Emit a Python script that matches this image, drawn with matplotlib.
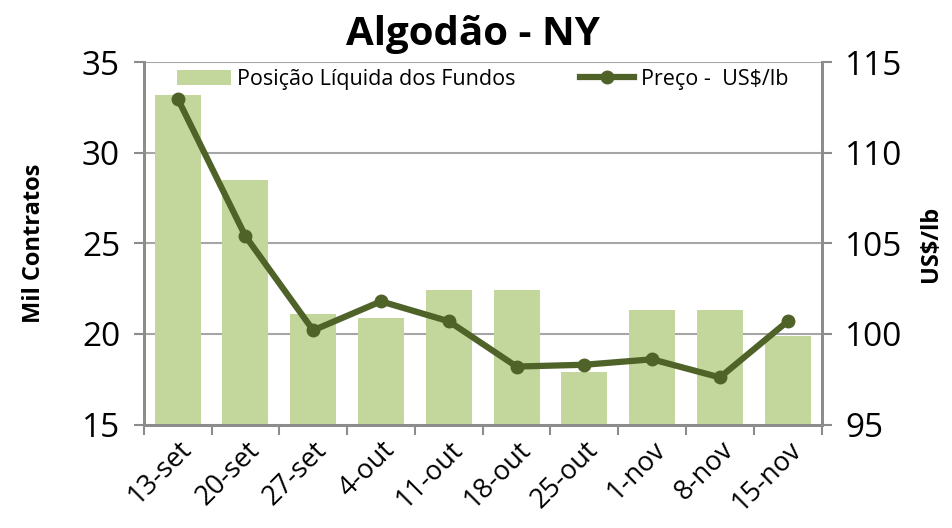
import matplotlib.pyplot as plt
import numpy as np

plt.rcParams['font.family'] = ['Open Sans', 'DejaVu Sans']

# semanas
datas = ['13-set', '20-set', '27-set', '4-out', '11-out', '18-out',
         '25-out', '1-nov', '8-nov', '15-nov']
# posicao liquida dos fundos (mil contratos)
posicao = [33.2, 28.5, 21.1, 20.9, 22.4, 22.4, 17.9, 21.3, 21.3, 19.9]
# preco US$/lb
preco = [113.0, 105.4, 100.2, 101.8, 100.7, 98.2, 98.3, 98.6, 97.6, 100.7]

barra_cor = '#c3d69b'
linha_cor = '#4f6228'
cinza = '#8c8c8c'

fig = plt.figure(figsize=(9.52, 5.28), dpi=100)
ax = fig.add_axes([0.151, 0.196, 0.712, 0.686])
ax2 = ax.twinx()

x = np.arange(len(datas))
b = ax.bar(x, posicao, width=0.68, color=barra_cor, zorder=2,
           label='Posição Líquida dos Fundos')
l, = ax2.plot(x, preco, color=linha_cor, lw=4.5, marker='o', ms=9,
              zorder=3, label='Preço -  US$/lb')

ax.set_xlim(-0.5, len(datas) - 0.5)
ax.set_ylim(15, 35)
ax.set_yticks([15, 20, 25, 30, 35])
ax2.set_ylim(95, 115)
ax2.set_yticks([95, 100, 105, 110, 115])

ax.yaxis.grid(True, color='#a6a6a6', lw=1.5, zorder=0)
ax.set_axisbelow(True)

for a in (ax, ax2):
    for s in a.spines.values():
        s.set_color(cinza)
        s.set_linewidth(2)
    a.tick_params(colors=cinza, width=1.5, length=7, labelcolor='black',
                  labelsize=24, pad=10)
ax.spines['top'].set_visible(False)
ax2.spines['top'].set_visible(False)

ax.set_xticks(np.arange(len(datas) + 1) - 0.5, minor=False)
ax.set_xticklabels([])
ax.set_xticks(x, minor=True)
ax.set_xticklabels(datas, minor=True, rotation=45, ha='right',
                   rotation_mode='anchor', fontsize=19.5)
ax.tick_params(axis='x', which='minor', length=0, pad=8)
ax.tick_params(axis='x', which='major', length=7, direction='out')

ax.set_ylabel('Mil Contratos', fontsize=17, fontweight='bold', labelpad=26)
ax2.set_ylabel('US$/lb', fontsize=17, fontweight='bold', labelpad=12)

fig.text(0.497, 0.935, 'Algodão - NY', ha='center', va='center',
         fontsize=29, fontweight='bold')

ax2.legend([b, l], ['Posição Líquida dos Fundos', 'Preço -  US$/lb'],
           loc='upper center', ncol=2, frameon=False, fontsize=15.5,
           bbox_to_anchor=(0.5, 1.035), columnspacing=3.0,
           handlelength=2.5, handletextpad=0.3)

fig.savefig('out.png', dpi=100)
